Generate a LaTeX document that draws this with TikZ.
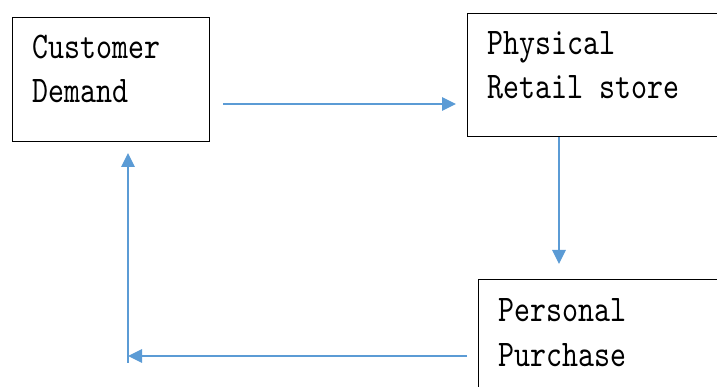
\documentclass[tikz,border=0pt]{standalone}
\usepackage{fontspec}
\setmonofont{lmmono10-regular}[Extension=.otf, FakeStretch=0.81]
\usepackage{tikz}
\usetikzlibrary{arrows.meta}
\definecolor{flowblue}{HTML}{5B9BD5}
\tikzset{
    box/.style={rectangle, draw, line width=0.75pt, anchor=north west,
    	inner sep=0pt}
}
\tikzset{
    txt/.style={anchor=base west, inner sep=0pt, align=left,
    	font=\ttfamily\fontsize{21.4}{25.3}\selectfont}
}
\tikzset{
	flow/.style={draw=flowblue, line width=0.8pt,
		-{Triangle[length=0.28cm, width=0.27cm]}}
}

\begin{document}
\begin{tikzpicture}
	\useasboundingbox (0cm, 0cm) rectangle (14.34cm, -7.74cm);
	\node (demand) [box, minimum width=3.94cm, minimum height=2.48cm] at (0.24cm, -0.34cm) {};
	\node (store) [box, minimum width=5.3cm, minimum height=2.46cm] at (9.34cm, -0.26cm) {};
	\node (purchase) [box, minimum width=5.2cm, minimum height=2.6cm] at (9.56cm, -5.58cm) {};
	
	% base anchor sits on the last line
	\node (demandtxt) [txt] at (0.64cm, -2.06cm) {Customer\\Demand};
	\node (storetxt) [txt] at (9.74cm, -1.98cm) {Physical\\Retail store};
	\node (purchasetxt) [txt] at (9.96cm, -7.32cm) {Personal\\Purchase};
	
	\coordinate (a1) at (4.46cm, -2.08cm); \coordinate (b1) at (9.12cm, -2.08cm);
	\coordinate (a2) at (11.18cm, -2.74cm); \coordinate (b2) at (11.18cm, -5.28cm);
	\coordinate (a3) at (9.34cm, -7.12cm); \coordinate (b3) at (2.56cm, -7.12cm);
	\coordinate (a4) at (2.56cm, -7.26cm); \coordinate (b4) at (2.56cm, -3.06cm);
	
	\draw [flow] (a1) -- (b1); \draw [flow] (a2) -- (b2);
	\draw [flow] (a3) -- (b3); \draw [flow] (a4) -- (b4);
\end{tikzpicture}
\end{document}
